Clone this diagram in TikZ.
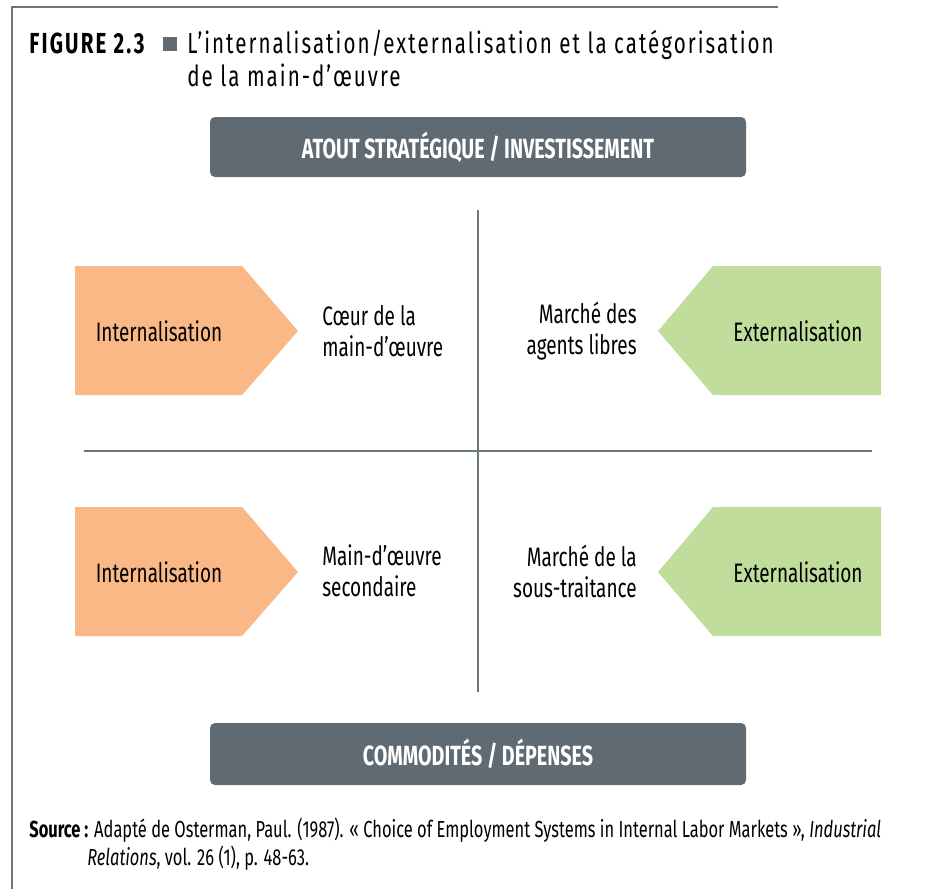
\documentclass[tikz,border=0pt]{standalone}
\usepackage{fontspec}
\setmainfont{Fira Sans}[FakeStretch=0.71]
\usepackage{tikz}
\usetikzlibrary{positioning, calc}

\definecolor{boxgray}{HTML}{5F6A72}
\definecolor{linegray}{HTML}{6B757C}
\definecolor{intorange}{HTML}{F9B886}
\definecolor{extgreen}{HTML}{C1DD9B}

\tikzset{
    headbox/.style = {fill=boxgray, rounded corners=5*0.02cm},
    headtext/.style = {text=white, inner sep=0pt, font=\fontsize{15.8}{18}\selectfont\bfseries},
    titletext/.style = {anchor=base west, inner sep=0pt, font=\fontsize{16.5}{19}\selectfont\addfontfeatures{LetterSpace=7}},
    figtext/.style = {anchor=base west, inner sep=0pt, font=\fontsize{16.5}{19}\selectfont\bfseries\addfontfeatures{LetterSpace=7.5}},
    arrowtext/.style = {inner sep=0pt, font=\fontsize{15.2}{18}\selectfont},
    celltext/.style = {inner sep=0pt, font=\fontsize{15.2}{17.6}\selectfont},
    srctext/.style = {anchor=base west, inner sep=0pt, font=\fontsize{13.2}{16}\selectfont},
    axis/.style = {draw=linegray, line width=0.6pt}
}

\begin{document}
\begin{tikzpicture}[x=0.02cm, y=-0.02cm]
        \useasboundingbox (0,0) rectangle (936,889);

        % frame
        \coordinate (fa) at (12,7);
        \coordinate (fb) at (778,7);
        \coordinate (fc) at (12,889);
        \draw[axis] (fb) -- (fa) -- (fc);

        % title
        \node[figtext] (figlab) at (29,53) {FIGURE 2.3};
        \fill[boxgray] (163,37) rectangle (177,51);
        \node[titletext] (ttl1) at (187,53) {L’internalisation/externalisation et la catégorisation};
        \node[titletext] (ttl2) at (187,86) {de la main-d’œuvre};

        % top and bottom boxes
        \fill[headbox] (210,117) rectangle (746,177);
        \node[headtext] (atout) at (478,147) {ATOUT STRATÉGIQUE / INVESTISSEMENT};
        \fill[headbox] (210,723) rectangle (746,785);
        \node[headtext] (commod) at (478,754) {COMMODITÉS / DÉPENSES};

        % axes
        \coordinate (vt) at (478,210);
        \coordinate (vb) at (478,692);
        \coordinate (hl) at (84,451);
        \coordinate (hr) at (872,451);
        \draw[axis] (vt) -- (vb);
        \draw[axis] (hl) -- (hr);

        \begin{scope}[shift={(75,266)}]
            \fill[intorange] (0,0) -- (167,0) -- (223,65) -- (167,129) -- (0,129) -- cycle;
            \node[arrowtext] (int1) at (84,65) {Internalisation};
        \end{scope}

        \begin{scope}[shift={(658,266)}]
            \fill[extgreen] (0,65) -- (55,0) -- (223,0) -- (223,129) -- (55,129) -- cycle;
            \node[arrowtext] (ext1) at (140,65) {Externalisation};
        \end{scope}

        \begin{scope}[shift={(75,507)}]
            \fill[intorange] (0,0) -- (167,0) -- (223,65) -- (167,129) -- (0,129) -- cycle;
            \node[arrowtext] (int2) at (84,65) {Internalisation};
        \end{scope}

        \begin{scope}[shift={(658,507)}]
            \fill[extgreen] (0,65) -- (55,0) -- (223,0) -- (223,129) -- (55,129) -- cycle;
            \node[arrowtext] (ext2) at (140,65) {Externalisation};
        \end{scope}

        % quadrant labels
        \node[celltext, anchor=west, align=left] (coeur) at (322,331) {Cœur de la\\main-d’œuvre};
        \node[celltext, anchor=east, align=right] (agents) at (637,331) {Marché des\\agents libres};
        \node[celltext, anchor=west, align=left] (second) at (322,571) {Main-d’œuvre\\secondaire};
        \node[celltext, anchor=east, align=right] (soustr) at (637,571) {Marché de la\\sous-traitance};

        % source
        \node[srctext] (src1) at (29,837) {\textbf{Source :} Adapté de Osterman, Paul. (1987). «~Choice of Employment Systems in Internal Labor Markets~», \textit{Industrial}};
        \node[srctext] (src2) at (87,865) {\textit{Relations}, vol. 26 (1), p. 48-63.};
    \end{tikzpicture}
\end{document}
